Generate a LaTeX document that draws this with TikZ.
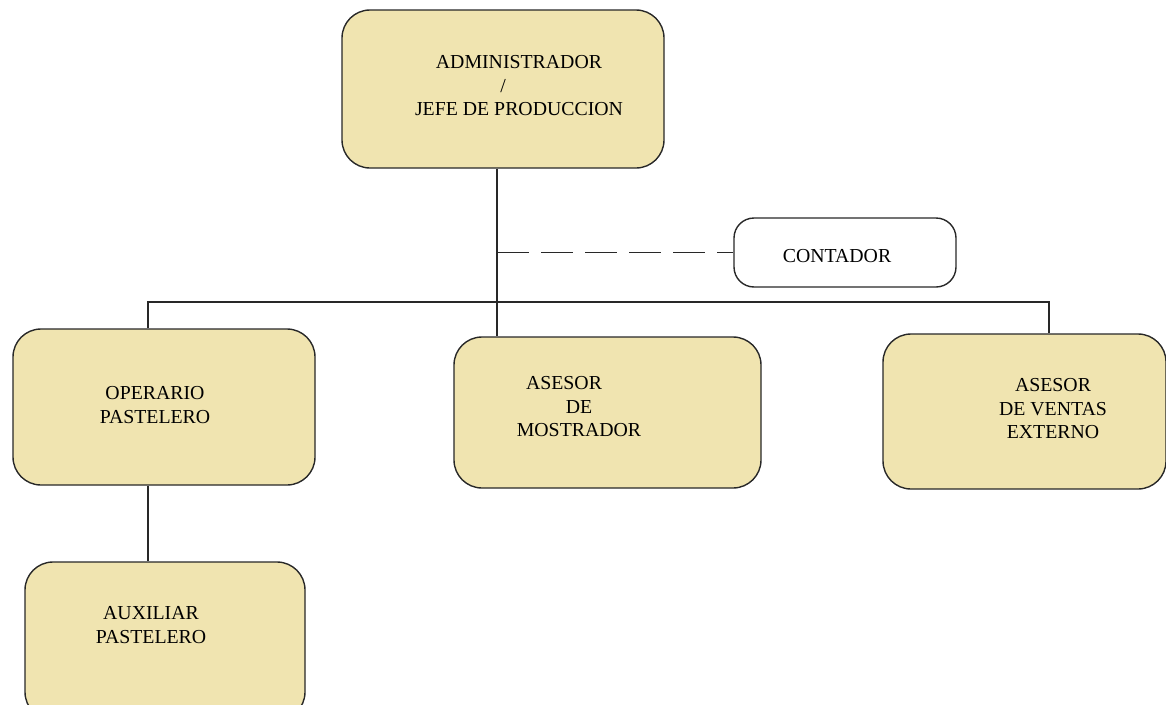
\documentclass[tikz,border=0pt]{standalone}
\usepackage{fontspec}
\setmainfont{Liberation Serif}
\definecolor{boxfill}{RGB}{240,228,176}
\definecolor{boxline}{RGB}{40,40,40}
\tikzset{
  orgbox/.style={draw=boxline, line width=1.4pt, fill=boxfill, rounded corners=28pt, inner sep=0pt},
  extbox/.style={draw=boxline, line width=1.4pt, fill=white, rounded corners=20pt, inner sep=0pt},
  orgtext/.style={align=center, inner sep=0pt, font=\fontsize{19.8}{23.5}\selectfont},
  link/.style={draw=boxline, line width=1.3pt},
  advice/.style={link, dash pattern=on 32pt off 12pt}
}
\begin{document}
\begin{tikzpicture}[x=1pt, y=-1pt]
  \useasboundingbox (0,0) rectangle (1166,704);

  % puestos
  \node[orgbox, minimum width=322pt, minimum height=158pt] (admin) at (503,89) {};
  \node[extbox, minimum width=222pt, minimum height=69pt] (contador) at (845,252.5) {};
  \node[orgbox, minimum width=302pt, minimum height=156pt] (operario) at (164,407) {};
  \node[orgbox, minimum width=307pt, minimum height=151pt] (mostrador) at (607.5,412.5) {};
  \node[orgbox, minimum width=283pt, minimum height=155pt] (ventas) at (1024.5,411.5) {};
  \node[orgbox, minimum width=280pt, minimum height=158pt] (auxiliar) at (165,641) {};

  % textos
  \node[orgtext] (t-admin) at (519,86) {ADMINISTRADOR\\/\kern32pt\\JEFE DE PRODUCCION};
  \node[orgtext] (t-contador) at (837,256) {CONTADOR};
  \node[orgtext] (t-operario) at (155,405) {OPERARIO\\PASTELERO};
  \node[orgtext] (t-mostrador) at (579,407) {ASESOR\hspace*{30pt}\\DE\hspace*{24pt}\\MOSTRADOR};
  \node[orgtext] (t-ventas) at (1053,409) {ASESOR\\DE VENTAS\\EXTERNO};
  \node[orgtext] (t-auxiliar) at (151,625) {AUXILIAR\\PASTELERO};

  % lineas
  \coordinate (trunk) at (497,302);
  \coordinate (busL) at (148,302);
  \coordinate (busR) at (1049,302);

  \draw[link] (trunk |- admin.south) -- (trunk |- mostrador.north);
  \draw[link] (busL |- operario.north) -- (busL) -- (busR) -- (busR |- ventas.north);
  \draw[link] (busL |- operario.south) -- (busL |- auxiliar.north);
  \draw[advice] (trunk |- contador.west) -- (contador.west);
\end{tikzpicture}
\end{document}
